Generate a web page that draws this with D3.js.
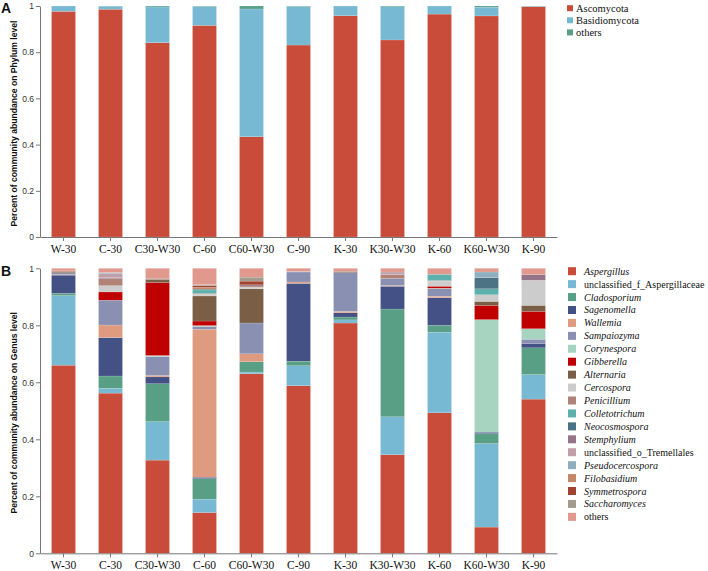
<!DOCTYPE html>
<html>
<head>
<meta charset="utf-8">
<script src="https://cdn.jsdelivr.net/npm/d3@7"></script>
<style>
  body { margin: 0; background: #fff; }
  svg { display: block; }
</style>
</head>
<body>
<div id="chart"></div>
<script>
// samples on the x axis
const samples = ["W-30", "C-30", "C30-W30", "C-60", "C60-W30", "C-90", "K-30", "K30-W30", "K-60", "K60-W30", "K-90"];

// panel A: phylum level
const phyla = ["Ascomycota", "Basidiomycota", "others"];
const ascomycota    = [0.977, 0.986, 0.841, 0.916, 0.434, 0.831, 0.958, 0.853, 0.965, 0.957, 0.997];
const basidiomycota = [0.023, 0.013, 0.155, 0.082, 0.553, 0.167, 0.042, 0.144, 0.035, 0.038, 0.002];
const phylumOthers  = [0.000, 0.001, 0.004, 0.002, 0.013, 0.002, 0.000, 0.003, 0.000, 0.005, 0.001];
const phylumColors = ["#c84c39", "#77b9d3", "#589f86"];

// panel B: genus level (one row per genus, legend order = stacking order)
const genera = ["Aspergillus", "unclassified_f_Aspergillaceae", "Cladosporium", "Sagenomella", "Wallemia",
  "Sampaiozyma", "Corynespora", "Gibberella", "Alternaria", "Cercospora", "Penicillium", "Colletotrichum",
  "Neocosmospora", "Stemphylium", "unclassified_o_Tremellales", "Pseudocercospora", "Filobasidium",
  "Symmetrospora", "Saccharomyces", "others"];
const italicGenus = g => !(g.startsWith("unclassified") || g === "others");
const genusValues = [
  [0.660, 0.562, 0.327, 0.143, 0.630, 0.588, 0.808, 0.346, 0.493, 0.092, 0.541],
  [0.244, 0.017, 0.135, 0.047, 0.006, 0.070, 0.011, 0.133, 0.283, 0.293, 0.086],
  [0.008, 0.043, 0.133, 0.072, 0.036, 0.016, 0.010, 0.378, 0.024, 0.035, 0.094],
  [0.064, 0.135, 0.024, 0.005, 0.000, 0.273, 0.015, 0.080, 0.097, 0.005, 0.014],
  [0.002, 0.044, 0.005, 0.519, 0.028, 0.005, 0.005, 0.003, 0.005, 0.000, 0.000],
  [0.006, 0.087, 0.066, 0.010, 0.108, 0.035, 0.136, 0.024, 0.026, 0.000, 0.016],
  [0.000, 0.000, 0.004, 0.003, 0.000, 0.000, 0.000, 0.000, 0.002, 0.395, 0.037],
  [0.000, 0.029, 0.256, 0.016, 0.000, 0.000, 0.000, 0.000, 0.007, 0.050, 0.061],
  [0.003, 0.000, 0.011, 0.088, 0.120, 0.000, 0.004, 0.000, 0.000, 0.014, 0.021],
  [0.000, 0.022, 0.000, 0.006, 0.006, 0.000, 0.000, 0.000, 0.018, 0.023, 0.088],
  [0.002, 0.025, 0.004, 0.003, 0.004, 0.000, 0.000, 0.014, 0.002, 0.000, 0.000],
  [0.000, 0.000, 0.000, 0.012, 0.000, 0.000, 0.000, 0.000, 0.022, 0.021, 0.000],
  [0.000, 0.000, 0.000, 0.003, 0.000, 0.000, 0.000, 0.000, 0.000, 0.039, 0.000],
  [0.000, 0.004, 0.000, 0.000, 0.004, 0.000, 0.000, 0.000, 0.000, 0.000, 0.020],
  [0.000, 0.013, 0.000, 0.000, 0.000, 0.002, 0.000, 0.009, 0.000, 0.000, 0.000],
  [0.000, 0.004, 0.000, 0.000, 0.000, 0.000, 0.000, 0.000, 0.000, 0.020, 0.000],
  [0.000, 0.000, 0.000, 0.006, 0.000, 0.000, 0.000, 0.000, 0.000, 0.000, 0.000],
  [0.002, 0.000, 0.000, 0.006, 0.013, 0.000, 0.000, 0.000, 0.000, 0.000, 0.000],
  [0.000, 0.000, 0.000, 0.004, 0.014, 0.000, 0.000, 0.000, 0.000, 0.000, 0.000],
  [0.009, 0.015, 0.035, 0.057, 0.031, 0.011, 0.011, 0.013, 0.021, 0.013, 0.022]
];
const genusColors = ["#c84c39", "#77b9d3", "#589f86", "#445185", "#df9b80", "#8a90b2", "#a6d4c1", "#c00000",
  "#7a5f46", "#cccccc", "#b08278", "#5eb0ac", "#4c7383", "#957388", "#c0a0a8", "#90afbe", "#c58867",
  "#a1432e", "#a39b8f", "#e0998c"];
const yTicks = [0, 0.2, 0.4, 0.6, 0.8, 1];

const W = 708, H = 571;
const svg = d3.select("#chart").append("svg").attr("width", W).attr("height", H);

const x = d3.scaleBand().domain(samples).range([40, 557]).paddingInner(0.49).paddingOuter(0.245);

function panel(top, bottom, keys, series, colors, yLabel, letter, letterY) {
  const y = d3.scaleLinear().domain([0, 1]).range([bottom, top]);
  const rows = samples.map((s, i) => {
    const r = {sample: s};
    keys.forEach((k, j) => r[k] = series[j][i]);
    return r;
  });
  const stacked = d3.stack().keys(keys)(rows);

  svg.append("g").selectAll("g")
    .data(stacked)
    .join("g")
      .attr("fill", (d, i) => colors[i])
    .selectAll("rect")
    .data(d => d)
    .join("rect")
      .attr("x", d => x(d.data.sample))
      .attr("width", x.bandwidth())
      .attr("y", d => y(d[1]))
      .attr("height", d => Math.max(0, y(d[0]) - y(d[1])))
      .attr("stroke", "#fff")
      .attr("stroke-opacity", 0.35)
      .attr("stroke-width", 0.4);

  // y axis
  const ya = svg.append("g")
    .attr("transform", "translate(40,0)")
    .call(d3.axisLeft(y).tickValues(yTicks).tickFormat(d3.format("~g")).tickSize(4).tickSizeOuter(0).tickPadding(2));
  ya.select(".domain").attr("stroke", "#777");
  ya.selectAll(".tick line").attr("stroke", "#777");
  ya.selectAll(".tick text").attr("fill", "#333").style("font", "8.5px 'Liberation Sans', Arial, sans-serif");

  // x axis
  const xa = svg.append("g")
    .attr("transform", `translate(0,${bottom})`)
    .call(d3.axisBottom(x).tickSize(4).tickSizeOuter(0).tickPadding(4));
  xa.select(".domain").attr("stroke", "#777");
  xa.selectAll(".tick line").attr("stroke", "#777");
  xa.selectAll(".tick text").attr("fill", "#111").style("font", "11.5px 'Liberation Serif', 'Times New Roman', serif");

  svg.append("text")
    .attr("transform", `translate(17,${(top + bottom) / 2 + 2}) rotate(-90)`)
    .attr("text-anchor", "middle")
    .style("font", "bold 8.6px 'Liberation Sans', Arial, sans-serif")
    .attr("fill", "#111")
    .text(yLabel);

  svg.append("text")
    .attr("x", 1).attr("y", letterY)
    .style("font", "bold 14px 'Liberation Sans', Arial, sans-serif")
    .attr("fill", "#111")
    .text(letter);
}

panel(6, 237, phyla, [ascomycota, basidiomycota, phylumOthers], phylumColors,
  "Percent of community abundance on Phylum level", "A", 13);
panel(268.3, 553.3, genera, genusValues, genusColors,
  "Percent of community abundance on Genus level", "B", 276);

// legend A
const legA = svg.append("g").selectAll("g")
  .data(phyla)
  .join("g")
    .attr("transform", (d, i) => `translate(567,${8.2 + i * 12.1})`);
legA.append("rect").attr("x", 0).attr("y", -3).attr("width", 6).attr("height", 6)
  .attr("fill", (d, i) => phylumColors[i]);
legA.append("text").attr("x", 9).attr("dy", "0.35em")
  .style("font", "10.5px 'Liberation Serif', 'Times New Roman', serif")
  .attr("fill", "#111")
  .text(d => d);

// legend B
const legB = svg.append("g").selectAll("g")
  .data(genera)
  .join("g")
    .attr("transform", (d, i) => `translate(568,${271.2 + i * 12.93})`);
legB.append("rect").attr("x", 0).attr("y", -4).attr("width", 8).attr("height", 8)
  .attr("fill", (d, i) => genusColors[i]);
legB.append("text").attr("x", 16).attr("dy", "0.35em")
  .style("font", "10px 'Liberation Serif', 'Times New Roman', serif")
  .style("font-style", d => italicGenus(d) ? "italic" : "normal")
  .attr("fill", "#111")
  .text(d => d);
</script>
</body>
</html>
